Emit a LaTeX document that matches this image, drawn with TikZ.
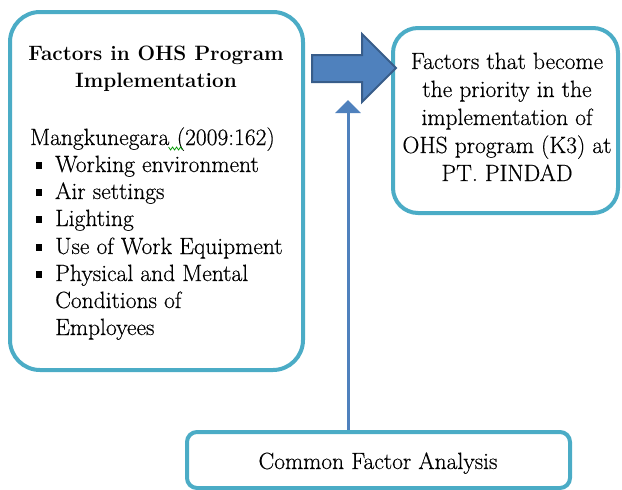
\documentclass[tikz,border=0pt]{standalone}
\usepackage{fontspec}
\newfontfamily\regfont{Latin Modern Roman}[FakeBold=0.4]
\usetikzlibrary{arrows.meta}
\definecolor{boxline}{HTML}{4BACC6}
\definecolor{arrfill}{HTML}{4F81BD}
\definecolor{arrline}{HTML}{385D8A}
\newcommand\sqbul{\makebox[0pt][l]{\hspace*{-19pt}\rule[3pt]{6pt}{7pt}}}
\tikzset{
  box/.style={draw=boxline, line width=4pt, fill=white},
  txtline/.style={anchor=base west, inner sep=0pt, font=\regfont\fontsize{23.5}{27}\selectfont, text=black},
  txtmid/.style={anchor=base, inner sep=0pt, font=\regfont\fontsize{23.5}{27}\selectfont, text=black},
  txtbold/.style={anchor=base, inner sep=0pt, font=\fontsize{20.8}{27}\selectfont\bfseries, text=black},
  blockarrow/.style={fill=arrfill, draw=arrline, line width=2pt, line join=miter},
  thinarrow/.style={draw=arrfill, line width=3pt, -{Triangle[width=25pt,length=13pt]}}
}
\begin{document}
\begin{tikzpicture}[x=1pt,y=-1pt]
\useasboundingbox (0,0) rectangle (622,490);
% boxes
\node[box, rounded corners=30pt, minimum width=293pt, minimum height=358pt, inner sep=0pt] (left) at (156.5,191) {};
\node[box, rounded corners=25pt, minimum width=225pt, minimum height=185pt, inner sep=0pt] (right) at (505.5,120.5) {};
\node[box, rounded corners=10pt, minimum width=383pt, minimum height=56pt, inner sep=0pt] (bottom) at (378.5,460) {};
% left box text
\node[txtbold] (t1) at (156,60) {Factors in OHS Program};
\node[txtbold] (t2) at (156,87) {Implementation};
\node[txtline] (m1) at (30,145) {Mangkunegara};
\node[txtline] (m2) at ([xshift=7pt]m1.base east) {(2009:162)};
\draw[green!60!black, line width=0.8pt] ([xshift=-1pt,yshift=-2pt]m1.base east) -- ++(2,3) -- ++(2,-3) -- ++(2,3) -- ++(2,-3) -- ++(2,3) -- ++(2,-3) -- ++(2,3);
\node[txtline] (b1) at (55,172) {\sqbul Working environment};
\node[txtline] (b2) at (55,199) {\sqbul Air settings};
\node[txtline] (b3) at (55,226) {\sqbul Lighting};
\node[txtline] (b4) at (55,254) {\sqbul Use of Work Equipment};
\node[txtline] (b5) at (55,281) {\sqbul Physical and Mental};
\node[txtline] (b6) at (55,308) {Conditions of};
\node[txtline] (b7) at (55,335) {Employees};
% right box text
\node[txtmid] (r1) at (507,69) {Factors that become};
\node[txtmid] (r2) at (507,97) {the priority in the};
\node[txtmid] (r3) at (507,125) {implementation of};
\node[txtmid] (r4) at (507,153) {OHS program (K3) at};
\node[txtmid] (r5) at (507,181) {PT. PINDAD};
% bottom text
\node[txtmid] (c1) at (378,469) {Common Factor Analysis};
% block arrow
\path[blockarrow] (312,55) -- (362,55) -- (362,34) -- (396,68) -- (362,102) -- (362,82) -- (312,82) -- cycle;
% thin arrow
\coordinate (tip) at (348,100);
\draw[thinarrow] (bottom.north -| tip) -- (tip);
\end{tikzpicture}
\end{document}
